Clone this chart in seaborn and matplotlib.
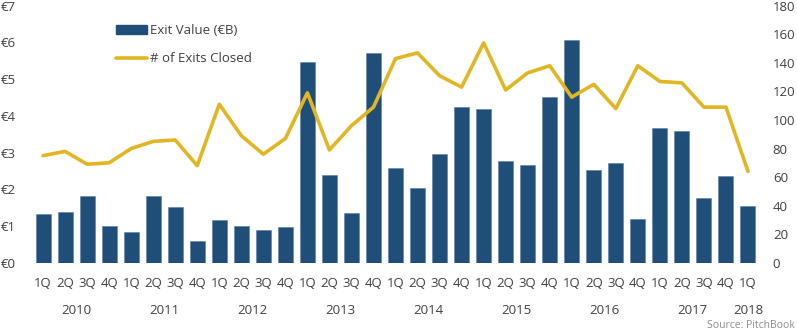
import matplotlib
matplotlib.use("Agg")
import matplotlib.pyplot as plt
import matplotlib.transforms as mtransforms
from matplotlib.patches import Patch
from matplotlib.lines import Line2D
import seaborn as sns
import pandas as pd
import numpy as np

quarters = ["1Q", "2Q", "3Q", "4Q"] * 8 + ["1Q"]
years = ["2010", "2011", "2012", "2013", "2014", "2015", "2016", "2017", "2018"]
exit_value = [1.33, 1.39, 1.83, 0.99, 0.85, 1.83, 1.51, 0.59,
              1.17, 0.99, 0.90, 0.96, 5.47, 2.40, 1.35, 5.71,
              2.58, 2.03, 2.95, 4.23, 4.18, 2.76, 2.65, 4.51,
              6.08, 2.52, 2.73, 1.20, 3.67, 3.60, 1.75, 2.37,
              1.54]
exits_closed = [75, 78, 69, 70, 80, 85, 86, 68,
                111, 89, 76, 87, 119, 79, 96, 109,
                143, 147, 131, 123, 154, 121, 133, 138,
                116, 125, 108, 138, 127, 126, 109, 109,
                64]

BAR = "#1F4E79"
GOLD = "#E2B623"
TXT = "#404040"

sns.set_theme(style="white")
plt.rcParams['font.family'] = ['Open Sans', 'DejaVu Sans']

n = len(exit_value)
df = pd.DataFrame({"idx": np.arange(n), "value": exit_value, "count": exits_closed})

fig = plt.figure(figsize=(7.97, 3.31), dpi=100)
ax = fig.add_axes([0.0402, 0.2063, 0.9121, 0.7762])

sns.barplot(data=df, x="idx", y="value", color=BAR, saturation=1, width=0.68,
            ax=ax, edgecolor="#5b7fa6", linewidth=0.4)
ax2 = ax.twinx()
sns.lineplot(data=df, x="idx", y="count", color=GOLD, linewidth=2.6, ax=ax2)

ax.set_xlim(-0.5, n - 0.5)
ax.set_ylim(0, 7)
ax2.set_ylim(0, 180)

ax.set_yticks(range(0, 8))
ax.set_yticklabels([f"€{i}" for i in range(0, 8)])
ax2.set_yticks(range(0, 181, 20))

ax.set_xticks(range(n))
ax.set_xticklabels(quarters)

for a in (ax, ax2):
    for s in a.spines.values():
        s.set_visible(False)
    a.set_xlabel("")
    a.set_ylabel("")
    a.grid(False)

ax.tick_params(axis="x", length=0, pad=10, labelsize=9.5, labelcolor=TXT)
ax.tick_params(axis="y", length=0, pad=11.5, labelsize=9.5, labelcolor=TXT)
ax2.tick_params(axis="y", length=0, pad=10, labelsize=9.5, labelcolor=TXT)

# year labels
year_pos = [1.5, 5.5, 9.5, 13.5, 17.5, 21.5, 25.5, 29.5, 32]
trans = mtransforms.blended_transform_factory(ax.transData, fig.transFigure)
for yr, xp in zip(years, year_pos):
    ax.text(xp, 1 - 310 / 331, yr, transform=trans, ha="center", va="center",
            fontsize=9.5, color=TXT)

fig.text(795 / 797, 1 - 326 / 331, "Source: PitchBook", ha="right", va="center",
         fontsize=7.5, color="#8c8c8c")

handles = [Patch(facecolor=BAR, edgecolor=BAR),
           Line2D([0], [0], color=GOLD, linewidth=2.6)]
leg = ax2.legend(handles, ["Exit Value (€B)", "# of Exits Closed"],
                 loc="upper left", bbox_to_anchor=(116 / 797, 1 - 24 / 331),
                 bbox_transform=fig.transFigure, frameon=False, fontsize=9.5,
                 handlelength=2.35, handleheight=0.65, labelspacing=1.15,
                 handletextpad=0.2, borderaxespad=0, borderpad=0)
for t in leg.get_texts():
    t.set_color(TXT)

fig.savefig("out.png", dpi=100)
